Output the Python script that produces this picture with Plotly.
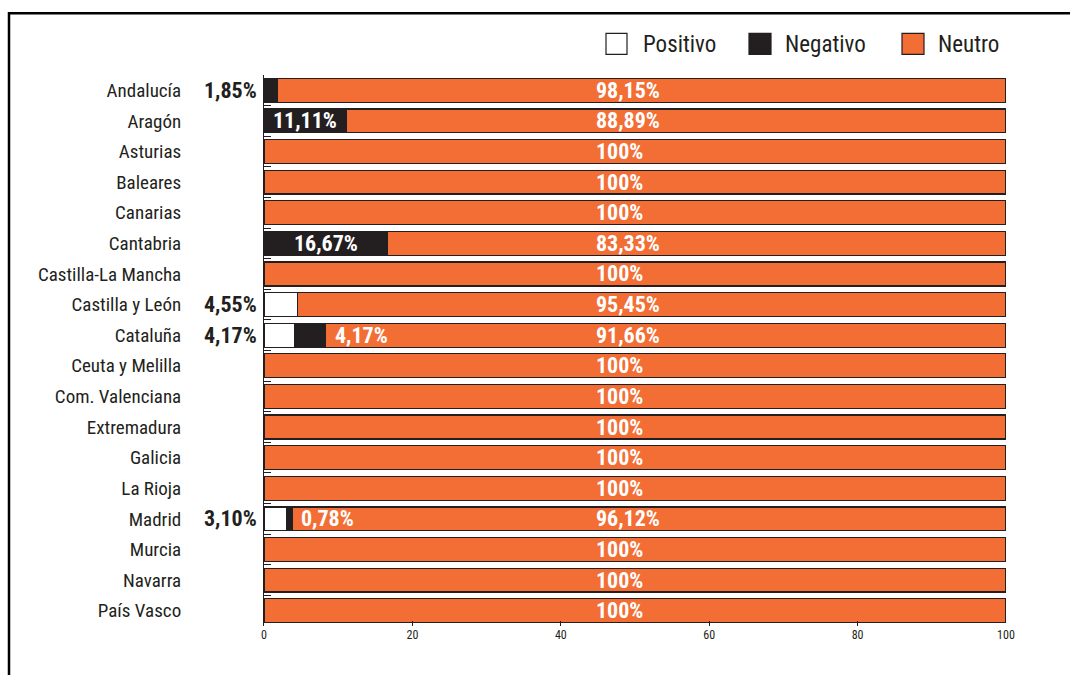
import plotly.graph_objects as go

categories = ["Andalucía", "Aragón", "Asturias", "Baleares", "Canarias", "Cantabria",
              "Castilla-La Mancha", "Castilla y León", "Cataluña", "Ceuta y Melilla",
              "Com. Valenciana", "Extremadura", "Galicia", "La Rioja", "Madrid",
              "Murcia", "Navarra", "País Vasco"]
positivo = [0, 0, 0, 0, 0, 0, 0, 4.55, 4.17, 0, 0, 0, 0, 0, 3.10, 0, 0, 0]
negativo = [1.85, 11.11, 0, 0, 0, 16.67, 0, 0, 4.17, 0, 0, 0, 0, 0, 0.78, 0, 0, 0]
neutro = [98.15, 88.89, 100, 100, 100, 83.33, 100, 95.45, 91.66, 100, 100, 100, 100, 100, 96.12, 100, 100, 100]
x_ticks = [0, 20, 40, 60, 80, 100]

ORANGE = "#f26e35"
DARK = "#231f20"
FONT = "Roboto Condensed, Open Sans Condensed, DejaVu Sans Condensed, sans-serif"

def fmt(v):
    s = f"{v:.2f}".replace(".", ",")
    if s.endswith(",00"):
        s = s[:-3]
    return s + "%"

# page-pixel geometry (body margin removed via post_script)
W, H = 1070, 675
L, R, T, B = 264, 1006, 74.7, 626.3
def px(xp):
    return (xp - L) / (R - L)
def py(yp):
    return (B - yp) / (B - T)

fig = go.Figure()
for name, vals, col in [("Positivo", positivo, "white"), ("Negativo", negativo, DARK), ("Neutro", neutro, ORANGE)]:
    fig.add_trace(go.Bar(y=categories, x=vals, name=name, orientation="h",
                         marker=dict(color=col, line=dict(color=DARK, width=1.2)),
                         showlegend=False, hoverinfo="x+y+name"))

LBL = 22
ann = []
for c, p, n, u in zip(categories, positivo, negativo, neutro):
    ann.append(dict(x=44.5, y=c, text=f"<b>{fmt(u)}</b>", xanchor="left", showarrow=False,
                    font=dict(color="white", size=LBL, family=FONT)))
    outside = []
    if p > 0:
        outside.append(p)
    if n > 0:
        if n > 10:
            ann.append(dict(x=p + n / 2, y=c, text=f"<b>{fmt(n)}</b>", xanchor="center", showarrow=False,
                            font=dict(color="white", size=LBL, family=FONT)))
        elif p > 0:
            ann.append(dict(x=p + n + 0.9, y=c, text=f"<b>{fmt(n)}</b>", xanchor="left", showarrow=False,
                            font=dict(color="white", size=LBL, family=FONT)))
        else:
            outside.append(n)
    for v in outside:
        ann.append(dict(xref="paper", x=px(259), y=c, text=f"<b>{fmt(v)}</b>", xanchor="right", showarrow=False,
                        font=dict(color=DARK, size=LBL, family=FONT)))

shapes = [dict(type="rect", xref="paper", yref="paper", x0=px(9), x1=px(1300), y0=py(900), y1=py(13),
               line=dict(color="black", width=2.5), fillcolor="rgba(0,0,0,0)", layer="below")]

legend_items = [("Positivo", "white", 606, 627, 641), ("Negativo", DARK, 749, 771, 783), ("Neutro", ORANGE, 902, 924, 936)]
for name, col, x0, x1, tx in legend_items:
    shapes.append(dict(type="rect", xref="paper", yref="paper", x0=px(x0), x1=px(x1), y0=py(54), y1=py(33),
                       line=dict(color=DARK, width=1.2), fillcolor=col))
    ann.append(dict(xref="paper", yref="paper", x=px(tx), y=py(44), text=name, xanchor="left", yanchor="middle",
                    showarrow=False, font=dict(color=DARK, size=23, family=FONT)))

fig.update_layout(
    barmode="stack", bargap=0.22,
    width=W, height=H,
    margin=dict(l=L, r=W - R, t=T, b=H - B, autoexpand=False),
    plot_bgcolor="white", paper_bgcolor="white",
    annotations=ann, shapes=shapes,
    xaxis=dict(range=[0, 100], tickvals=x_ticks, ticks="inside", ticklen=5, tickcolor=DARK,
               showgrid=False, zeroline=False, showline=False,
               tickfont=dict(size=12, color=DARK, family=FONT)),
    yaxis=dict(categoryorder="array", categoryarray=categories, autorange="reversed",
               showline=True, linecolor=DARK, linewidth=1, ticks="inside", tickson="boundaries",
               ticklen=7, tickcolor=DARK, showgrid=False, ticklabelstandoff=78,
               tickfont=dict(size=19, color=DARK, family=FONT)),
    font=dict(family=FONT),
)

fig.write_html("out.html", config={"displayModeBar": False},
               post_script="document.body.style.margin='0';document.body.style.overflow='hidden';")
